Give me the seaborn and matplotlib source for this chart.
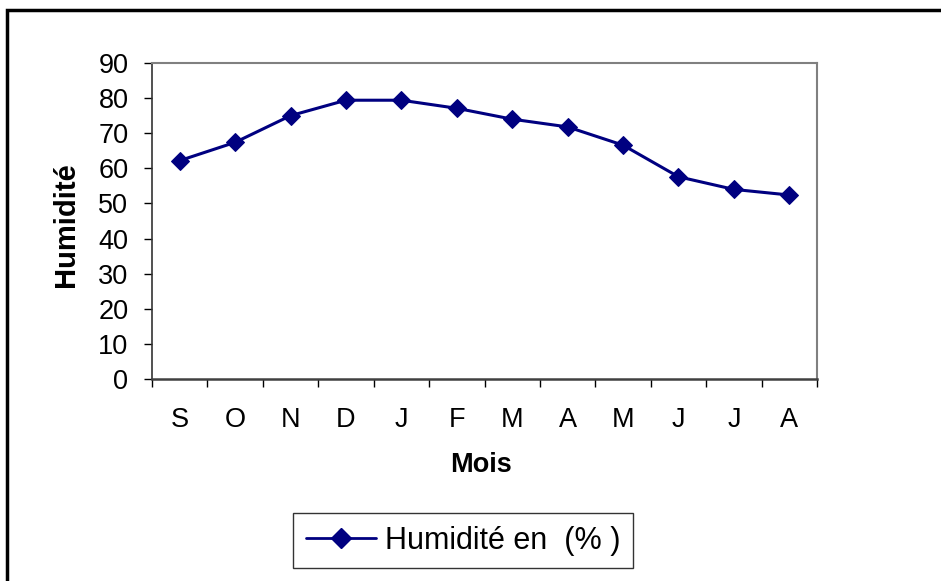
import numpy as np
import pandas as pd
import matplotlib
matplotlib.use("Agg")
import matplotlib.pyplot as plt
import seaborn as sns
from matplotlib.lines import Line2D
from matplotlib.patches import Rectangle

months = ["S", "O", "N", "D", "J", "F", "M", "A", "M", "J", "J", "A"]
humidity = [62.2, 67.4, 75.0, 79.4, 79.4, 77.1, 74.0, 71.8, 66.6, 57.6, 54.0, 52.4]
y_ticks = [0, 10, 20, 30, 40, 50, 60, 70, 80, 90]
series_label = "Humidité en  (% )"
x_title = "Mois"
y_title = "Humidité"

sns.set_style("white")
plt.rcParams["font.family"] = ["Liberation Sans", "DejaVu Sans"]
for k in ["text.color", "axes.labelcolor", "xtick.color", "ytick.color"]:
    plt.rcParams[k] = "black"

W, H = 941, 581
fig = plt.figure(figsize=(W / 100, H / 100), dpi=100)
ax = fig.add_axes([152 / W, 1 - 379 / H, (817 - 152) / W, (379 - 63) / H])

df = pd.DataFrame({"pos": np.arange(len(months)), "val": humidity})
color = "#000080"
sns.lineplot(data=df, x="pos", y="val", ax=ax, color=color, lw=2.2,
             marker="D", markersize=9, markeredgecolor=color, markerfacecolor=color)

FS = 19.5
ax.set_xlim(-0.5, len(months) - 0.5)
ax.set_ylim(0, 90)
ax.set_yticks(y_ticks)
ax.set_yticklabels([str(t) for t in y_ticks], fontsize=FS)
ax.set_xticks(np.arange(len(months) + 1) - 0.5)
ax.set_xticklabels([])
ax.set_xticks(np.arange(len(months)), minor=True)
ax.set_xticklabels(months, minor=True, fontsize=FS)
ax.tick_params(axis="x", which="major", direction="out", length=6, width=1, color="black", bottom=True)
ax.tick_params(axis="x", which="minor", length=0, pad=20)
ax.tick_params(axis="y", direction="out", length=6, width=1, color="black", left=True, pad=11)

ax.set_xlabel("")
ax.set_ylabel("")
fig.text(481 / W, 1 - 465 / H, x_title, fontsize=19.5, fontweight="bold", ha="center", va="center")
fig.text(66 / W, 1 - 225 / H, y_title, fontsize=21, fontweight="bold", ha="center", va="center",
         rotation=90)

for side in ["top", "right"]:
    ax.spines[side].set_color("#808080")
    ax.spines[side].set_linewidth(1.5)
ax.spines["left"].set_color("#333333")
ax.spines["left"].set_linewidth(1.2)
ax.spines["bottom"].set_color("#404040")
ax.spines["bottom"].set_linewidth(1.8)
ax.grid(False)

# outer chart frame
fig.patches.append(Rectangle((7 / W, -0.1), 1.2, 1 - 10 / H + 0.1, transform=fig.transFigure,
                             fill=False, edgecolor="black", lw=2.5))

handle = Line2D([], [], color=color, lw=2, marker="D", markersize=10,
                markerfacecolor=color, markeredgecolor=color)
leg = fig.legend([handle], [series_label], loc="center", bbox_to_anchor=(463 / W, 1 - 540.5 / H),
                 fontsize=22, frameon=True, fancybox=False, edgecolor="black",
                 handlelength=2.3, borderpad=0.42, handletextpad=0.3, borderaxespad=0)
leg.get_frame().set_linewidth(1)

fig.savefig("out.png", dpi=100)
